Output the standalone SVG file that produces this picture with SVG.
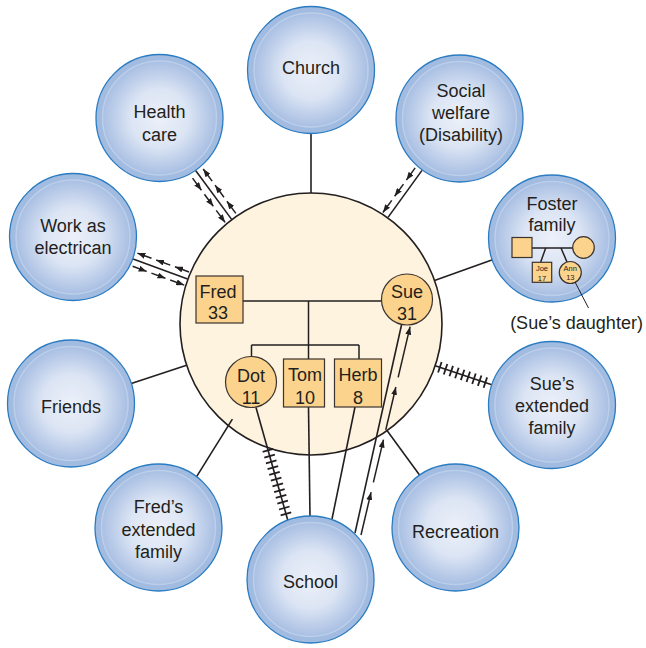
<svg xmlns="http://www.w3.org/2000/svg" xmlns:xlink="http://www.w3.org/1999/xlink" width="646" height="648" viewBox="0 0 646 648">
<style>
text{font-family:"Liberation Sans",Arial,Helvetica,sans-serif;fill:#231f20;text-anchor:middle}
.lbl{font-size:18px}
.sm{font-size:7.5px}
.ln{stroke:#231f20;stroke-width:1.6;fill:none}
.fam{stroke:#231f20;stroke-width:1.5;fill:none}
.ar{stroke:#231f20;stroke-width:1.5;fill:none;marker-end:url(#ah)}
.hatch{stroke:#231f20;stroke-width:11;stroke-dasharray:1.8 4.2;fill:none}
.mem{fill:#fcd38c;stroke:#3a3330;stroke-width:1.2}
</style>
<defs>
<radialGradient id="inner" cx="0.5" cy="0.5" r="0.5">
<stop offset="0" stop-color="#ecf0f9"/>
<stop offset="0.5" stop-color="#dce5f4"/>
<stop offset="1" stop-color="#a9bfe3"/>
</radialGradient>
<marker id="ah" markerUnits="userSpaceOnUse" markerWidth="8" markerHeight="6" refX="8" refY="3" orient="auto">
<path d="M0,0 L8,3 L0,6 z" fill="#231f20"/>
</marker>
<g id="bubble">
<circle r="63.5" fill="#a2bbe0" stroke="#2a7cc2" stroke-width="1.3"/>
<circle r="57" fill="url(#inner)" stroke="#bccfea" stroke-width="1.5"/>
</g>
</defs>
<rect width="646" height="648" fill="#ffffff"/>

<g id="household">
<circle cx="311" cy="324" r="131" fill="#fdf3de" stroke="#231f20" stroke-width="1.6"/>
</g>

<g id="connectors">
<line class="ln" x1="311" y1="133.5" x2="311" y2="193"/>
<line class="ln" x1="195.8" y1="170.7" x2="232" y2="219.9"/>
<line class="ar" x1="192.54" y1="178.11" x2="201.43" y2="190.19"/>
<line class="ar" x1="204.39" y1="194.22" x2="213.28" y2="206.31"/>
<line class="ar" x1="216.24" y1="210.33" x2="225.13" y2="222.42"/>
<line class="ar" x1="235.82" y1="213.32" x2="226.93" y2="201.24"/>
<line class="ar" x1="223.97" y1="197.21" x2="215.08" y2="185.13"/>
<line class="ar" x1="212.12" y1="181.1" x2="203.23" y2="169.02"/>
<line class="ln" x1="133.1" y1="259" x2="187.6" y2="278.9"/>
<line class="ar" x1="189.04" y1="271.97" x2="174.96" y2="266.82"/>
<line class="ar" x1="170.26" y1="265.1" x2="156.17" y2="259.95"/>
<line class="ar" x1="151.48" y1="258.24" x2="137.39" y2="253.09"/>
<line class="ar" x1="132.59" y1="266.23" x2="146.68" y2="271.38"/>
<line class="ar" x1="151.37" y1="273.09" x2="165.46" y2="278.24"/>
<line class="ar" x1="170.16" y1="279.96" x2="184.24" y2="285.11"/>
<line class="ln" x1="422" y1="170.4" x2="388" y2="217.4"/>
<line class="ar" x1="415.17" y1="167.91" x2="406.38" y2="180.07"/>
<line class="ar" x1="403.45" y1="184.12" x2="394.66" y2="196.28"/>
<line class="ar" x1="391.74" y1="200.33" x2="382.95" y2="212.49"/>
<line class="ln" x1="434.5" y1="280.5" x2="492.5" y2="259.7"/>
<line class="ln" x1="131.3" y1="383.5" x2="186.6" y2="365.2"/>
<line class="ln" x1="435.2" y1="365.7" x2="491.8" y2="384.8"/>
<line class="hatch" x1="439" y1="367" x2="489.2" y2="383.9"/>
<line class="ln" x1="196.6" y1="476.7" x2="232.4" y2="419.2"/>
<line class="ln" x1="387" y1="430.5" x2="421" y2="477"/>
<line class="ln" x1="256" y1="407.5" x2="288" y2="521"/>
<line class="hatch" x1="267.7" y1="449.4" x2="287.3" y2="518.6"/>
<line class="ln" x1="308.5" y1="407" x2="310" y2="516.5"/>
<line class="ln" x1="355" y1="407" x2="332" y2="519"/>
<line class="ln" x1="355" y1="533" x2="401.5" y2="325"/>
<line class="ar" x1="361" y1="535" x2="371.09" y2="492.17"/>
<line class="ar" x1="373.38" y1="482.44" x2="383.47" y2="439.61"/>
<line class="ar" x1="385.76" y1="429.87" x2="395.85" y2="387.04"/>
<line class="ar" x1="398.15" y1="377.31" x2="410.07" y2="326.69"/>
<line class="fam" x1="243" y1="301" x2="381.5" y2="301"/>
<line class="fam" x1="308.5" y1="301" x2="308.5" y2="345"/>
<line class="fam" x1="251.5" y1="345" x2="359" y2="345"/>
<line class="fam" x1="251.5" y1="345" x2="251.5" y2="357"/>
<line class="fam" x1="308.5" y1="345" x2="308.5" y2="359"/>
<line class="fam" x1="359" y1="345" x2="359" y2="359"/>
</g>

<g id="fred">
<rect class="mem" x="196" y="276" width="47" height="47"/>
<text class="lbl" x="218" y="298">Fred</text>
<text class="lbl" x="218" y="319">33</text>
</g>
<g id="sue">
<circle class="mem" cx="407" cy="299.5" r="25.5"/>
<text class="lbl" x="407" y="298">Sue</text>
<text class="lbl" x="407" y="320">31</text>
</g>
<g id="dot">
<circle class="mem" cx="251" cy="382" r="25.5"/>
<text class="lbl" x="251" y="381.5">Dot</text>
<text class="lbl" x="251" y="403.5">11</text>
</g>
<g id="tom">
<rect class="mem" x="283.5" y="359" width="41" height="48"/>
<text class="lbl" x="305" y="381">Tom</text>
<text class="lbl" x="305" y="403.5">10</text>
</g>
<g id="herb">
<rect class="mem" x="334.5" y="359" width="47" height="48"/>
<text class="lbl" x="358" y="381">Herb</text>
<text class="lbl" x="358" y="403.5">8</text>
</g>

<g id="church">
<use xlink:href="#bubble" x="311" y="70"/>
<text class="lbl" x="311" y="74">Church</text>
</g>
<g id="health-care">
<use xlink:href="#bubble" x="159.5" y="118"/>
<text class="lbl" x="159.5" y="118">Health</text>
<text class="lbl" x="159.5" y="141">care</text>
</g>
<g id="social-welfare">
<use xlink:href="#bubble" x="459.5" y="118.5"/>
<text class="lbl" x="461" y="97">Social</text>
<text class="lbl" x="461" y="119">welfare</text>
<text class="lbl" x="461" y="141">(Disability)</text>
</g>
<g id="work">
<use xlink:href="#bubble" x="73" y="237"/>
<text class="lbl" x="73" y="232">Work as</text>
<text class="lbl" x="73" y="253.5">electrican</text>
</g>
<g id="foster-family">
<use xlink:href="#bubble" x="552" y="238.5"/>
<text class="lbl" x="552" y="210">Foster</text>
<text class="lbl" x="552" y="231">family</text>
<line class="fam" x1="532" y1="248" x2="573" y2="248"/>
<line class="fam" x1="545.7" y1="248" x2="540.7" y2="262"/>
<line class="fam" x1="561" y1="248" x2="567" y2="262"/>
<rect class="mem" x="512" y="237.5" width="20" height="20"/>
<circle class="mem" cx="583.5" cy="247.5" r="10.8"/>
<rect class="mem" x="532.3" y="262.3" width="19.4" height="20"/>
<text class="sm" x="542" y="271">Joe</text>
<text class="sm" x="542" y="280.5">17</text>
<circle class="mem" cx="570.3" cy="272.5" r="11"/>
<text class="sm" x="570.3" y="270.5">Ann</text>
<text class="sm" x="570.3" y="280">13</text>
</g>
<g id="sues-daughter-note">
<line x1="575" y1="282" x2="588.5" y2="308" stroke="#231f20" stroke-width="1"/>
<text class="lbl" x="576.5" y="328.5">(Sue’s daughter)</text>
</g>
<g id="friends">
<use xlink:href="#bubble" x="71" y="403.5"/>
<text class="lbl" x="71" y="413">Friends</text>
</g>
<g id="sues-extended-family">
<use xlink:href="#bubble" x="552" y="405"/>
<text class="lbl" x="552" y="390">Sue’s</text>
<text class="lbl" x="552" y="412">extended</text>
<text class="lbl" x="552" y="434">family</text>
</g>
<g id="freds-extended-family">
<use xlink:href="#bubble" x="158.5" y="527.5"/>
<text class="lbl" x="158.5" y="513">Fred’s</text>
<text class="lbl" x="158.5" y="536">extended</text>
<text class="lbl" x="158.5" y="558">family</text>
</g>
<g id="recreation">
<use xlink:href="#bubble" x="455.5" y="527.5"/>
<text class="lbl" x="455.5" y="538">Recreation</text>
</g>
<g id="school">
<use xlink:href="#bubble" x="310.5" y="579.5"/>
<text class="lbl" x="310.5" y="588">School</text>
</g>
</svg>
